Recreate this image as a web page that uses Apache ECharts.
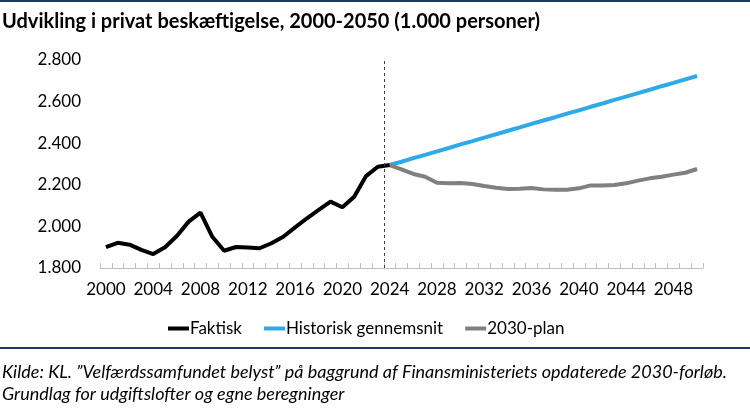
<!DOCTYPE html>
<html>
<head>
<meta charset="utf-8">
<script src="https://cdn.jsdelivr.net/npm/echarts@6/dist/echarts.min.js"></script>
<style>html,body{margin:0;padding:0;background:#fff;}#c{width:750px;height:408px;}</style>
</head>
<body>
<div id="c"></div>
<script>
var years = [];
for (var y = 2000; y <= 2050; y++) years.push(String(y));

var faktisk = [1900, 1921, 1912, 1887, 1867, 1900, 1954, 2023, 2066, 1950, 1883, 1901, 1898, 1895, 1919, 1950, 1995, 2039, 2079, 2119, 2092, 2143, 2242, 2287, 2295];
var historisk = [2295, 2311, 2328, 2344, 2361, 2377, 2394, 2410, 2427, 2443, 2460, 2476, 2493, 2509, 2525, 2542, 2558, 2575, 2591, 2608, 2624, 2641, 2657, 2674, 2690, 2707, 2723];
var plan2030 = [2295, 2274, 2252, 2239, 2210, 2207, 2209, 2204, 2194, 2186, 2180, 2181, 2185, 2178, 2176, 2176, 2183, 2197, 2197, 2199, 2207, 2220, 2231, 2239, 2249, 2258, 2276];
var yTicks = [1800, 2000, 2200, 2400, 2600, 2800];
var splitYear = 2023.5;

function pad(arr, startIdx) {
  var out = [];
  for (var i = 0; i < years.length; i++) {
    var j = i - startIdx;
    out.push(j >= 0 && j < arr.length ? arr[j] : null);
  }
  return out;
}

var FONT = 'Lato';
var chart = echarts.init(document.getElementById('c'), null, {renderer: 'canvas'});
chart.setOption({
  animation: false,
  backgroundColor: '#fff',
  title: [{
    text: 'Udvikling i privat beskæftigelse, 2000-2050 (1.000 personer)',
    left: 0, top: 12, padding: [0, 0, 0, 2],
    textStyle: {fontFamily: FONT, fontWeight: 'bold', fontSize: 20, color: '#000'}
  }, {
    text: 'Kilde: KL. ”Velfærdssamfundet belyst” på baggrund af Finansministeriets opdaterede 2030-forløb.\nGrundlag for udgiftslofter og egne beregninger',
    left: 0, top: 361, padding: [0, 0, 0, 2],
    textStyle: {fontFamily: FONT, fontStyle: 'italic', fontWeight: 'normal', fontSize: 18, lineHeight: 22, color: '#000'}
  }],
  graphic: [
    {type: 'rect', shape: {x: 0, y: 0, width: 750, height: 2}, style: {fill: '#1F3864'}},
    {type: 'rect', shape: {x: 0, y: 347, width: 750, height: 2}, style: {fill: '#1F3864'}}
  ],
  legend: {
    left: 163, top: 315,
    icon: 'rect', itemWidth: 21, itemHeight: 4, itemGap: 22,
    textStyle: {fontFamily: FONT, fontSize: 17, color: '#000', padding: [0, 0, 0, -4]},
    data: ['Faktisk', 'Historisk gennemsnit', '2030-plan']
  },
  grid: {left: 100, right: 47, top: 60, bottom: 140, containLabel: false},
  xAxis: [{
    type: 'category', data: years, boundaryGap: true,
    axisLine: {lineStyle: {color: '#BFBFBF', width: 1}},
    axisTick: {show: true, inside: true, length: 5, interval: 0, lineStyle: {color: '#BFBFBF'}},
    axisLabel: {interval: 3, fontFamily: FONT, fontSize: 17, color: '#000', margin: 13}
  }, {
    type: 'value', min: 1999.5, max: 2050.5, show: false
  }],
  yAxis: {
    type: 'value', min: yTicks[0], max: yTicks[yTicks.length - 1], interval: 200,
    axisLine: {show: false}, axisTick: {show: false}, splitLine: {show: false},
    axisLabel: {fontFamily: FONT, fontSize: 17, color: '#000', margin: 19,
      formatter: function (v) { return String(v).replace(/\B(?=(\d{3})+(?!\d))/g, '.'); }}
  },
  series: [{
    name: 'Faktisk', type: 'line', data: pad(faktisk, 0), symbol: 'none',
    lineStyle: {color: '#000000', width: 4}, itemStyle: {color: '#000000'}, z: 3
  }, {
    name: 'Historisk gennemsnit', type: 'line', data: pad(historisk, 24), symbol: 'none',
    lineStyle: {color: '#2EAAE6', width: 4}, itemStyle: {color: '#2EAAE6'}, z: 2
  }, {
    name: '2030-plan', type: 'line', data: pad(plan2030, 24), symbol: 'none',
    lineStyle: {color: '#808080', width: 4}, itemStyle: {color: '#808080'}, z: 2
  }, {
    name: 'split', type: 'line', xAxisIndex: 1, data: [], symbol: 'none', silent: true,
    markLine: {silent: true, symbol: 'none', label: {show: false},
      lineStyle: {color: '#404040', type: [3, 3], width: 1},
      data: [{xAxis: splitYear}]}
  }]
});
</script>
</body>
</html>
